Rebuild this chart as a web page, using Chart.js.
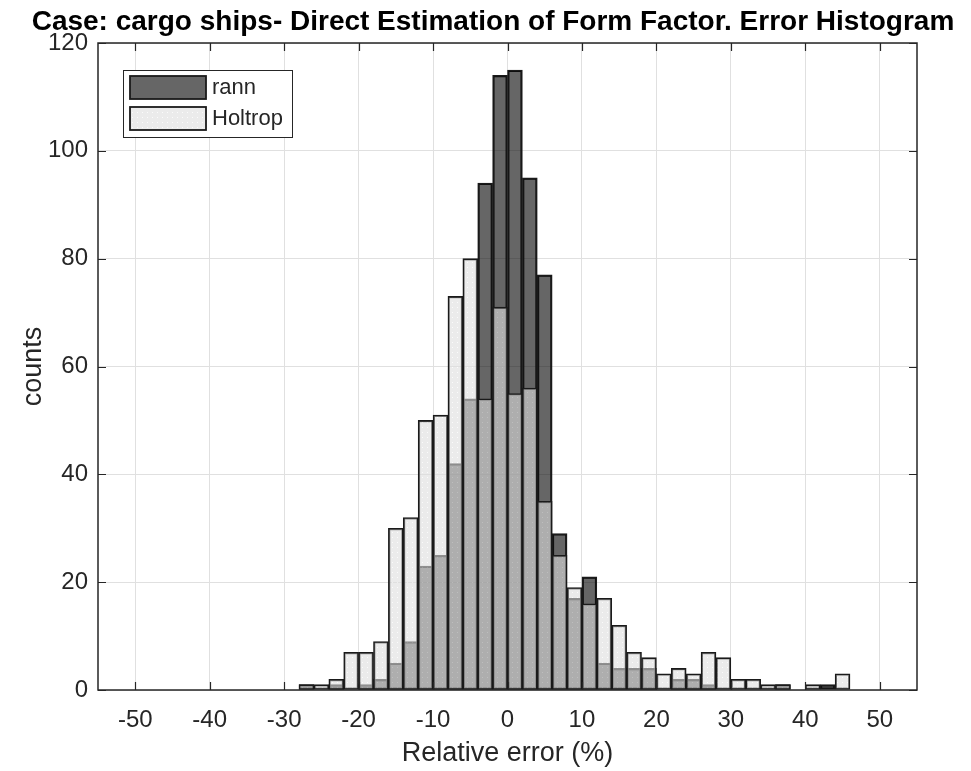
<!DOCTYPE html>
<html lang="en">
<head>
<meta charset="UTF-8">
<title>Error Histogram</title>
<script src="https://cdn.jsdelivr.net/npm/chart.js"></script>
<style>
    html, body { margin: 0; padding: 0; background: #fff; }
    #wrap { width: 971px; height: 771px; }
</style>
</head>
<body>
<div id="wrap"><canvas id="histo" width="971" height="771"></canvas></div>
<script>
    // bins are 2 % wide, value = bin centre
    const binCenters = [-27, -25, -23, -21, -19, -17, -15, -13, -11, -9, -7, -5, -3, -1,
        1, 3, 5, 7, 9, 11, 13, 15, 17, 19, 21, 23, 25, 27, 29, 31, 33, 35, 37, 39, 41, 43, 45];
    const rannCounts = [1, 0, 1, 0, 1, 2, 5, 9, 23, 25, 42, 54, 94, 114,
        115, 95, 77, 29, 17, 21, 5, 4, 4, 4, 0, 2, 2, 1, 0, 0, 0, 0, 1, 0, 0, 1, 0];
    const holtropCounts = [1, 1, 2, 7, 7, 9, 30, 32, 50, 51, 73, 80, 54, 71,
        55, 56, 35, 25, 19, 16, 17, 12, 7, 6, 3, 4, 3, 7, 6, 2, 2, 1, 1, 0, 1, 0, 3];
    const xTickValues = [-50, -40, -30, -20, -10, 0, 10, 20, 30, 40, 50];
    const yTickValues = [0, 20, 40, 60, 80, 100, 120];
    const seriesNames = ['rann', 'Holtrop'];
    const titleText = 'Case: cargo ships- Direct Estimation of Form Factor. Error Histogram';

    const FONT = '"Liberation Sans", Arial, Helvetica, sans-serif';
    const AXIS_COLOR = '#262626';
    const EDGE = '#1a1a1a';

    // light dotted face like the matlab export
    function dottedFill() {
        const c = document.createElement('canvas');
        c.width = 5; c.height = 5;
        const g = c.getContext('2d');
        g.fillStyle = 'rgba(222,222,222,0.6)';
        g.fillRect(0, 0, 5, 5);
        g.clearRect(2, 2, 1, 1);
        g.fillStyle = 'rgba(248,248,248,0.6)';
        g.fillRect(2, 2, 1, 1);
        return g.createPattern(c, 'repeat');
    }

    const rannFill = 'rgba(0,0,0,0.6)';
    const holtropFill = dottedFill();

    function toPoints(counts) {
        return binCenters.map((c, i) => ({ x: c, y: counts[i] }));
    }

    // box, inward ticks, title and legend drawn matlab style
    const matlabFrame = {
        id: 'matlabFrame',
        afterDraw(chart) {
            const { ctx, chartArea: a, scales: { x, y } } = chart;
            ctx.save();

            ctx.strokeStyle = AXIS_COLOR;
            ctx.lineWidth = 1.5;
            ctx.strokeRect(a.left, a.top, a.right - a.left, a.bottom - a.top);

            const tl = 8;
            ctx.beginPath();
            xTickValues.forEach(v => {
                const px = Math.round(x.getPixelForValue(v)) + 0.5;
                ctx.moveTo(px, a.bottom); ctx.lineTo(px, a.bottom - tl);
                ctx.moveTo(px, a.top); ctx.lineTo(px, a.top + tl);
            });
            yTickValues.forEach(v => {
                const py = Math.round(y.getPixelForValue(v)) + 0.5;
                ctx.moveTo(a.left, py); ctx.lineTo(a.left + tl, py);
                ctx.moveTo(a.right, py); ctx.lineTo(a.right - tl, py);
            });
            ctx.lineWidth = 1.2;
            ctx.stroke();

            // title
            ctx.fillStyle = '#000';
            ctx.font = 'bold 28px ' + FONT;
            ctx.textAlign = 'center';
            ctx.textBaseline = 'middle';
            ctx.fillText(titleText, 493, 22);

            // legend
            const bx = a.left + 25, by = a.top + 27, bw = 169, bh = 67;
            ctx.fillStyle = '#fff';
            ctx.fillRect(bx, by, bw, bh);
            ctx.strokeStyle = AXIS_COLOR;
            ctx.lineWidth = 1;
            ctx.strokeRect(bx + 0.5, by + 0.5, bw, bh);

            const fills = [rannFill, holtropFill];
            ctx.font = '22px ' + FONT;
            ctx.textAlign = 'left';
            seriesNames.forEach((name, i) => {
                const sy = by + 6 + i * 31;
                ctx.fillStyle = fills[i];
                ctx.fillRect(bx + 7, sy, 76, 23);
                ctx.strokeStyle = EDGE;
                ctx.lineWidth = 1.8;
                ctx.strokeRect(bx + 7, sy, 76, 23);
                ctx.fillStyle = AXIS_COLOR;
                ctx.fillText(name, bx + 89, sy + 12);
            });

            ctx.restore();
        }
    };

    const ctx = document.getElementById('histo').getContext('2d');
    new Chart(ctx, {
        type: 'bar',
        data: {
            datasets: [{
                // first dataset is painted last, so Holtrop sits on top of rann
                label: seriesNames[1],
                data: toPoints(holtropCounts),
                backgroundColor: holtropFill,
                borderColor: EDGE,
                borderWidth: 1.6,
                borderSkipped: false,
                barPercentage: 1,
                categoryPercentage: 1,
                grouped: false
            }, {
                label: seriesNames[0],
                data: toPoints(rannCounts),
                backgroundColor: rannFill,
                borderColor: EDGE,
                borderWidth: 1.6,
                borderSkipped: false,
                barPercentage: 1,
                categoryPercentage: 1,
                grouped: false
            }]
        },
        options: {
            responsive: false,
            animation: false,
            layout: { padding: { left: 0, top: 43, right: 54, bottom: 0 } },
            plugins: {
                legend: { display: false },
                title: { display: false },
                tooltip: { enabled: false }
            },
            scales: {
                x: {
                    type: 'linear',
                    min: -55,
                    max: 55,
                    offset: false,
                    afterBuildTicks: s => { s.ticks = xTickValues.map(v => ({ value: v })); },
                    afterFit: s => { s.height = 81; },
                    grid: { color: '#e0e0e0', lineWidth: 1, drawTicks: false, offset: false },
                    border: { display: false },
                    ticks: {
                        color: AXIS_COLOR,
                        font: { size: 24, family: FONT },
                        padding: 16,
                        maxRotation: 0
                    },
                    title: {
                        display: true,
                        text: 'Relative error (%)',
                        color: AXIS_COLOR,
                        font: { size: 27, family: FONT },
                        padding: 1
                    }
                },
                y: {
                    min: 0,
                    max: 120,
                    afterBuildTicks: s => { s.ticks = yTickValues.map(v => ({ value: v })); },
                    afterFit: s => { s.width = 98; },
                    grid: { color: '#e0e0e0', lineWidth: 1, drawTicks: false },
                    border: { display: false },
                    ticks: {
                        color: AXIS_COLOR,
                        font: { size: 24, family: FONT },
                        padding: 10
                    },
                    title: {
                        display: true,
                        text: 'counts',
                        color: AXIS_COLOR,
                        font: { size: 27, family: FONT },
                        padding: 17
                    }
                }
            }
        },
        plugins: [matlabFrame]
    });
</script>
</body>
</html>
